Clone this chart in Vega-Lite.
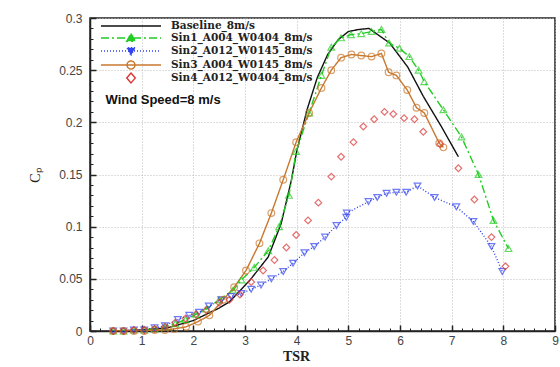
{
  "$schema": "https://vega.github.io/schema/vega-lite/v6.json",
  "width": 465,
  "height": 313,
  "autosize": "none",
  "padding": {"left": 90, "top": 18, "right": 5, "bottom": 36},
  "background": "white",
  "config": {
    "view": {"stroke": "#222", "strokeWidth": 1.5},
    "axis": {"labelFont": "Liberation Sans", "labelFontSize": 12, "labelColor": "#444", "domainColor": "#222", "domainWidth": 1.5, "tickColor": "#222"},
    "legend": {
      "orient": "none", "legendX": 35, "legendY": 2, "padding": 0,
      "labelFont": "DejaVu Serif", "labelFontSize": 10.5, "labelFontWeight": "bold", "labelColor": "#222",
      "symbolSize": 100, "symbolStrokeWidth": 1.4, "symbolOpacity": 1, "labelOffset": 34, "rowPadding": -2
    }
  },
  "datasets": {
    "cp": [
      {"series": "Baseline_8m/s", "tsr": 0.45, "cp": 0},
      {"series": "Baseline_8m/s", "tsr": 1.0, "cp": 0.001},
      {"series": "Baseline_8m/s", "tsr": 1.5, "cp": 0.003},
      {"series": "Baseline_8m/s", "tsr": 2.0, "cp": 0.01},
      {"series": "Baseline_8m/s", "tsr": 2.5, "cp": 0.022},
      {"series": "Baseline_8m/s", "tsr": 2.7, "cp": 0.028},
      {"series": "Baseline_8m/s", "tsr": 3.1, "cp": 0.049},
      {"series": "Baseline_8m/s", "tsr": 3.45, "cp": 0.071},
      {"series": "Baseline_8m/s", "tsr": 3.7, "cp": 0.103},
      {"series": "Baseline_8m/s", "tsr": 3.9, "cp": 0.145},
      {"series": "Baseline_8m/s", "tsr": 4.0, "cp": 0.172},
      {"series": "Baseline_8m/s", "tsr": 4.2, "cp": 0.212},
      {"series": "Baseline_8m/s", "tsr": 4.4, "cp": 0.243},
      {"series": "Baseline_8m/s", "tsr": 4.6, "cp": 0.265},
      {"series": "Baseline_8m/s", "tsr": 4.8, "cp": 0.279},
      {"series": "Baseline_8m/s", "tsr": 5.0, "cp": 0.287},
      {"series": "Baseline_8m/s", "tsr": 5.2, "cp": 0.289},
      {"series": "Baseline_8m/s", "tsr": 5.4, "cp": 0.29},
      {"series": "Baseline_8m/s", "tsr": 5.6, "cp": 0.283},
      {"series": "Baseline_8m/s", "tsr": 5.8, "cp": 0.276},
      {"series": "Baseline_8m/s", "tsr": 6.15, "cp": 0.253},
      {"series": "Baseline_8m/s", "tsr": 6.45, "cp": 0.225},
      {"series": "Baseline_8m/s", "tsr": 6.8, "cp": 0.196},
      {"series": "Baseline_8m/s", "tsr": 7.13, "cp": 0.167},

      {"series": "Sin1_A004_W0404_8m/s", "tsr": 0.45, "cp": 0},
      {"series": "Sin1_A004_W0404_8m/s", "tsr": 0.65, "cp": 0},
      {"series": "Sin1_A004_W0404_8m/s", "tsr": 0.85, "cp": 0.001},
      {"series": "Sin1_A004_W0404_8m/s", "tsr": 1.05, "cp": 0.001},
      {"series": "Sin1_A004_W0404_8m/s", "tsr": 1.25, "cp": 0.002},
      {"series": "Sin1_A004_W0404_8m/s", "tsr": 1.45, "cp": 0.004},
      {"series": "Sin1_A004_W0404_8m/s", "tsr": 1.65, "cp": 0.007},
      {"series": "Sin1_A004_W0404_8m/s", "tsr": 1.85, "cp": 0.011},
      {"series": "Sin1_A004_W0404_8m/s", "tsr": 2.05, "cp": 0.016},
      {"series": "Sin1_A004_W0404_8m/s", "tsr": 2.25, "cp": 0.021},
      {"series": "Sin1_A004_W0404_8m/s", "tsr": 2.5, "cp": 0.03},
      {"series": "Sin1_A004_W0404_8m/s", "tsr": 2.77, "cp": 0.039},
      {"series": "Sin1_A004_W0404_8m/s", "tsr": 2.93, "cp": 0.049},
      {"series": "Sin1_A004_W0404_8m/s", "tsr": 3.18, "cp": 0.061},
      {"series": "Sin1_A004_W0404_8m/s", "tsr": 3.45, "cp": 0.077},
      {"series": "Sin1_A004_W0404_8m/s", "tsr": 3.66, "cp": 0.1},
      {"series": "Sin1_A004_W0404_8m/s", "tsr": 3.85, "cp": 0.13},
      {"series": "Sin1_A004_W0404_8m/s", "tsr": 3.99, "cp": 0.172},
      {"series": "Sin1_A004_W0404_8m/s", "tsr": 4.24, "cp": 0.209},
      {"series": "Sin1_A004_W0404_8m/s", "tsr": 4.48, "cp": 0.245},
      {"series": "Sin1_A004_W0404_8m/s", "tsr": 4.67, "cp": 0.272},
      {"series": "Sin1_A004_W0404_8m/s", "tsr": 4.86, "cp": 0.281},
      {"series": "Sin1_A004_W0404_8m/s", "tsr": 5.05, "cp": 0.284},
      {"series": "Sin1_A004_W0404_8m/s", "tsr": 5.25, "cp": 0.285},
      {"series": "Sin1_A004_W0404_8m/s", "tsr": 5.45, "cp": 0.287},
      {"series": "Sin1_A004_W0404_8m/s", "tsr": 5.64, "cp": 0.289},
      {"series": "Sin1_A004_W0404_8m/s", "tsr": 5.79, "cp": 0.276},
      {"series": "Sin1_A004_W0404_8m/s", "tsr": 5.99, "cp": 0.271},
      {"series": "Sin1_A004_W0404_8m/s", "tsr": 6.18, "cp": 0.263},
      {"series": "Sin1_A004_W0404_8m/s", "tsr": 6.36, "cp": 0.25},
      {"series": "Sin1_A004_W0404_8m/s", "tsr": 6.47, "cp": 0.239},
      {"series": "Sin1_A004_W0404_8m/s", "tsr": 6.84, "cp": 0.212},
      {"series": "Sin1_A004_W0404_8m/s", "tsr": 7.19, "cp": 0.186},
      {"series": "Sin1_A004_W0404_8m/s", "tsr": 7.52, "cp": 0.15},
      {"series": "Sin1_A004_W0404_8m/s", "tsr": 7.81, "cp": 0.106},
      {"series": "Sin1_A004_W0404_8m/s", "tsr": 8.1, "cp": 0.079},

      {"series": "Sin2_A012_W0145_8m/s", "tsr": 0.45, "cp": 0},
      {"series": "Sin2_A012_W0145_8m/s", "tsr": 0.65, "cp": 0},
      {"series": "Sin2_A012_W0145_8m/s", "tsr": 0.85, "cp": 0.001},
      {"series": "Sin2_A012_W0145_8m/s", "tsr": 1.05, "cp": 0.001},
      {"series": "Sin2_A012_W0145_8m/s", "tsr": 1.25, "cp": 0.003},
      {"series": "Sin2_A012_W0145_8m/s", "tsr": 1.45, "cp": 0.005},
      {"series": "Sin2_A012_W0145_8m/s", "tsr": 1.7, "cp": 0.011},
      {"series": "Sin2_A012_W0145_8m/s", "tsr": 1.92, "cp": 0.015},
      {"series": "Sin2_A012_W0145_8m/s", "tsr": 2.11, "cp": 0.018},
      {"series": "Sin2_A012_W0145_8m/s", "tsr": 2.3, "cp": 0.024},
      {"series": "Sin2_A012_W0145_8m/s", "tsr": 2.54, "cp": 0.03},
      {"series": "Sin2_A012_W0145_8m/s", "tsr": 2.73, "cp": 0.033},
      {"series": "Sin2_A012_W0145_8m/s", "tsr": 2.93, "cp": 0.036},
      {"series": "Sin2_A012_W0145_8m/s", "tsr": 3.12, "cp": 0.04},
      {"series": "Sin2_A012_W0145_8m/s", "tsr": 3.31, "cp": 0.044},
      {"series": "Sin2_A012_W0145_8m/s", "tsr": 3.51, "cp": 0.05},
      {"series": "Sin2_A012_W0145_8m/s", "tsr": 3.74, "cp": 0.057},
      {"series": "Sin2_A012_W0145_8m/s", "tsr": 3.93, "cp": 0.065},
      {"series": "Sin2_A012_W0145_8m/s", "tsr": 4.15, "cp": 0.075},
      {"series": "Sin2_A012_W0145_8m/s", "tsr": 4.34, "cp": 0.081},
      {"series": "Sin2_A012_W0145_8m/s", "tsr": 4.55, "cp": 0.09},
      {"series": "Sin2_A012_W0145_8m/s", "tsr": 4.77, "cp": 0.101},
      {"series": "Sin2_A012_W0145_8m/s", "tsr": 4.96, "cp": 0.109},
      {"series": "Sin2_A012_W0145_8m/s", "tsr": 4.97, "cp": 0.113},
      {"series": "Sin2_A012_W0145_8m/s", "tsr": 5.39, "cp": 0.124},
      {"series": "Sin2_A012_W0145_8m/s", "tsr": 5.56, "cp": 0.128},
      {"series": "Sin2_A012_W0145_8m/s", "tsr": 5.74, "cp": 0.132},
      {"series": "Sin2_A012_W0145_8m/s", "tsr": 5.93, "cp": 0.133},
      {"series": "Sin2_A012_W0145_8m/s", "tsr": 6.12, "cp": 0.133},
      {"series": "Sin2_A012_W0145_8m/s", "tsr": 6.34, "cp": 0.139},
      {"series": "Sin2_A012_W0145_8m/s", "tsr": 6.67, "cp": 0.128},
      {"series": "Sin2_A012_W0145_8m/s", "tsr": 7.09, "cp": 0.119},
      {"series": "Sin2_A012_W0145_8m/s", "tsr": 7.42, "cp": 0.105},
      {"series": "Sin2_A012_W0145_8m/s", "tsr": 7.77, "cp": 0.081},
      {"series": "Sin2_A012_W0145_8m/s", "tsr": 7.98, "cp": 0.057},

      {"series": "Sin3_A004_W0145_8m/s", "tsr": 0.45, "cp": 0},
      {"series": "Sin3_A004_W0145_8m/s", "tsr": 0.65, "cp": 0},
      {"series": "Sin3_A004_W0145_8m/s", "tsr": 0.85, "cp": 0},
      {"series": "Sin3_A004_W0145_8m/s", "tsr": 1.05, "cp": 0},
      {"series": "Sin3_A004_W0145_8m/s", "tsr": 1.25, "cp": 0.001},
      {"series": "Sin3_A004_W0145_8m/s", "tsr": 1.45, "cp": 0.001},
      {"series": "Sin3_A004_W0145_8m/s", "tsr": 1.63, "cp": 0.002},
      {"series": "Sin3_A004_W0145_8m/s", "tsr": 1.86, "cp": 0.004},
      {"series": "Sin3_A004_W0145_8m/s", "tsr": 2.09, "cp": 0.009},
      {"series": "Sin3_A004_W0145_8m/s", "tsr": 2.31, "cp": 0.015},
      {"series": "Sin3_A004_W0145_8m/s", "tsr": 2.58, "cp": 0.03},
      {"series": "Sin3_A004_W0145_8m/s", "tsr": 2.79, "cp": 0.042},
      {"series": "Sin3_A004_W0145_8m/s", "tsr": 3.02, "cp": 0.058},
      {"series": "Sin3_A004_W0145_8m/s", "tsr": 3.28, "cp": 0.084},
      {"series": "Sin3_A004_W0145_8m/s", "tsr": 3.51, "cp": 0.113},
      {"series": "Sin3_A004_W0145_8m/s", "tsr": 3.74, "cp": 0.145},
      {"series": "Sin3_A004_W0145_8m/s", "tsr": 3.99, "cp": 0.181},
      {"series": "Sin3_A004_W0145_8m/s", "tsr": 4.24, "cp": 0.209},
      {"series": "Sin3_A004_W0145_8m/s", "tsr": 4.48, "cp": 0.233},
      {"series": "Sin3_A004_W0145_8m/s", "tsr": 4.67, "cp": 0.25},
      {"series": "Sin3_A004_W0145_8m/s", "tsr": 4.86, "cp": 0.262},
      {"series": "Sin3_A004_W0145_8m/s", "tsr": 5.06, "cp": 0.265},
      {"series": "Sin3_A004_W0145_8m/s", "tsr": 5.25, "cp": 0.264},
      {"series": "Sin3_A004_W0145_8m/s", "tsr": 5.45, "cp": 0.263},
      {"series": "Sin3_A004_W0145_8m/s", "tsr": 5.64, "cp": 0.266},
      {"series": "Sin3_A004_W0145_8m/s", "tsr": 5.78, "cp": 0.248},
      {"series": "Sin3_A004_W0145_8m/s", "tsr": 5.93, "cp": 0.245},
      {"series": "Sin3_A004_W0145_8m/s", "tsr": 6.14, "cp": 0.231},
      {"series": "Sin3_A004_W0145_8m/s", "tsr": 6.32, "cp": 0.214},
      {"series": "Sin3_A004_W0145_8m/s", "tsr": 6.47, "cp": 0.209},
      {"series": "Sin3_A004_W0145_8m/s", "tsr": 6.76, "cp": 0.18},
      {"series": "Sin3_A004_W0145_8m/s", "tsr": 6.84, "cp": 0.176},

      {"series": "Sin4_A012_W0404_8m/s", "tsr": 0.45, "cp": 0},
      {"series": "Sin4_A012_W0404_8m/s", "tsr": 0.65, "cp": 0},
      {"series": "Sin4_A012_W0404_8m/s", "tsr": 0.85, "cp": 0.001},
      {"series": "Sin4_A012_W0404_8m/s", "tsr": 1.05, "cp": 0.001},
      {"series": "Sin4_A012_W0404_8m/s", "tsr": 1.25, "cp": 0.002},
      {"series": "Sin4_A012_W0404_8m/s", "tsr": 1.45, "cp": 0.004},
      {"series": "Sin4_A012_W0404_8m/s", "tsr": 1.65, "cp": 0.008},
      {"series": "Sin4_A012_W0404_8m/s", "tsr": 1.85, "cp": 0.012},
      {"series": "Sin4_A012_W0404_8m/s", "tsr": 2.05, "cp": 0.016},
      {"series": "Sin4_A012_W0404_8m/s", "tsr": 2.25, "cp": 0.02},
      {"series": "Sin4_A012_W0404_8m/s", "tsr": 2.5, "cp": 0.027},
      {"series": "Sin4_A012_W0404_8m/s", "tsr": 2.7, "cp": 0.03},
      {"series": "Sin4_A012_W0404_8m/s", "tsr": 2.9, "cp": 0.035},
      {"series": "Sin4_A012_W0404_8m/s", "tsr": 3.12, "cp": 0.047},
      {"series": "Sin4_A012_W0404_8m/s", "tsr": 3.35, "cp": 0.058},
      {"series": "Sin4_A012_W0404_8m/s", "tsr": 3.57, "cp": 0.068},
      {"series": "Sin4_A012_W0404_8m/s", "tsr": 3.8, "cp": 0.08},
      {"series": "Sin4_A012_W0404_8m/s", "tsr": 3.99, "cp": 0.092},
      {"series": "Sin4_A012_W0404_8m/s", "tsr": 4.22, "cp": 0.106},
      {"series": "Sin4_A012_W0404_8m/s", "tsr": 4.42, "cp": 0.123},
      {"series": "Sin4_A012_W0404_8m/s", "tsr": 4.67, "cp": 0.148},
      {"series": "Sin4_A012_W0404_8m/s", "tsr": 4.86, "cp": 0.167},
      {"series": "Sin4_A012_W0404_8m/s", "tsr": 5.1, "cp": 0.181},
      {"series": "Sin4_A012_W0404_8m/s", "tsr": 5.29, "cp": 0.196},
      {"series": "Sin4_A012_W0404_8m/s", "tsr": 5.5, "cp": 0.203},
      {"series": "Sin4_A012_W0404_8m/s", "tsr": 5.7, "cp": 0.21},
      {"series": "Sin4_A012_W0404_8m/s", "tsr": 5.87, "cp": 0.208},
      {"series": "Sin4_A012_W0404_8m/s", "tsr": 6.08, "cp": 0.204},
      {"series": "Sin4_A012_W0404_8m/s", "tsr": 6.28, "cp": 0.203},
      {"series": "Sin4_A012_W0404_8m/s", "tsr": 6.45, "cp": 0.191},
      {"series": "Sin4_A012_W0404_8m/s", "tsr": 6.78, "cp": 0.179},
      {"series": "Sin4_A012_W0404_8m/s", "tsr": 7.13, "cp": 0.156},
      {"series": "Sin4_A012_W0404_8m/s", "tsr": 7.44, "cp": 0.126},
      {"series": "Sin4_A012_W0404_8m/s", "tsr": 7.77, "cp": 0.09},
      {"series": "Sin4_A012_W0404_8m/s", "tsr": 8.04, "cp": 0.062}
    ],
    "note": [{"label": "Wind Speed=8 m/s", "tsr": 0.3, "cp": 0.221}]
  },
  "data": {"name": "cp"},
  "encoding": {
    "x": {
      "field": "tsr", "type": "quantitative",
      "scale": {"domain": [0, 9], "nice": false, "zero": false},
      "axis": {
        "title": "TSR", "titleFont": "Liberation Serif", "titleFontSize": 14, "titleFontWeight": "bold", "titleColor": "#222", "titleX": 206, "titlePadding": 0,
        "values": [0,0.2,0.4,0.6,0.8,1,1.2,1.4,1.6,1.8,2,2.2,2.4,2.6,2.8,3,3.2,3.4,3.6,3.8,4,4.2,4.4,4.6,4.8,5,5.2,5.4,5.6,5.8,6,6.2,6.4,6.6,6.8,7,7.2,7.4,7.6,7.8,8,8.2,8.4,8.6,8.8,9],
        "labelExpr": "abs(datum.value - round(datum.value)) < 0.001 ? format(datum.value, 'd') : ''",
        "tickSize": {"condition": {"test": "abs(datum.value - round(datum.value)) < 0.001", "value": -6}, "value": -3},
        "tickWidth": {"condition": {"test": "abs(datum.value - round(datum.value)) < 0.001", "value": 1.5}, "value": 1},
        "gridOpacity": {"condition": {"test": "abs(datum.value - round(datum.value)) < 0.001", "value": 1}, "value": 0},
        "gridColor": "#bbb", "gridDash": [1, 2], "gridWidth": 1,
        "labelPadding": 10, "labelFlush": false, "labelOverlap": false
      }
    },
    "y": {
      "field": "cp", "type": "quantitative",
      "scale": {"domain": [0, 0.3], "nice": false},
      "axis": {
        "title": "Cₚ", "titleFont": "Liberation Serif", "titleFontSize": 14, "titleFontWeight": "normal", "titleColor": "#222", "titlePadding": 16,
        "values": [0,0.01,0.02,0.03,0.04,0.05,0.06,0.07,0.08,0.09,0.1,0.11,0.12,0.13,0.14,0.15,0.16,0.17,0.18,0.19,0.2,0.21,0.22,0.23,0.24,0.25,0.26,0.27,0.28,0.29,0.3],
        "labelExpr": "abs(datum.value*20 - round(datum.value*20)) < 0.001 ? format(datum.value, '') : ''",
        "tickSize": {"condition": {"test": "abs(datum.value*20 - round(datum.value*20)) < 0.001", "value": -6}, "value": -3},
        "tickWidth": {"condition": {"test": "abs(datum.value*20 - round(datum.value*20)) < 0.001", "value": 1.5}, "value": 1},
        "gridOpacity": {"condition": {"test": "abs(datum.value*20 - round(datum.value*20)) < 0.001", "value": 1}, "value": 0},
        "gridColor": "#bbb", "gridDash": [1, 2], "gridWidth": 1,
        "labelPadding": 14, "labelFlush": false, "labelOverlap": false
      }
    }
  },
  "resolve": {"scale": {"shape": "independent", "strokeDash": "independent", "fill": "independent", "stroke": "independent"}},
  "layer": [
    {
      "transform": [{"filter": "datum.series !== 'Sin4_A012_W0404_8m/s'"}],
      "mark": {"type": "line", "strokeWidth": 1.4, "clip": true},
      "encoding": {
        "color": {
          "field": "series", "type": "nominal",
          "scale": {
            "domain": ["Baseline_8m/s", "Sin1_A004_W0404_8m/s", "Sin2_A012_W0145_8m/s", "Sin3_A004_W0145_8m/s", "Sin4_A012_W0404_8m/s"],
            "range": ["#111111", "#22cc22", "#3344ee", "#c8782e", "#dd3333"]
          },
          "legend": null
        },
        "strokeDash": {
          "field": "series", "type": "nominal",
          "scale": {
            "domain": ["Baseline_8m/s", "Sin1_A004_W0404_8m/s", "Sin2_A012_W0145_8m/s", "Sin3_A004_W0145_8m/s", "Sin4_A012_W0404_8m/s"],
            "range": [[1, 0], [8, 3, 2, 3], [1, 2], [1, 0], [1, 0]]
          },
          "legend": null
        }
      }
    },
    {
      "transform": [{"filter": "datum.series !== 'Baseline_8m/s'"}],
      "mark": {"type": "point", "filled": false, "size": 45, "strokeWidth": 1.2},
      "encoding": {
        "color": {"field": "series", "type": "nominal", "legend": null},
        "shape": {
          "field": "series", "type": "nominal",
          "scale": {
            "domain": ["Baseline_8m/s", "Sin1_A004_W0404_8m/s", "Sin2_A012_W0145_8m/s", "Sin3_A004_W0145_8m/s", "Sin4_A012_W0404_8m/s"],
            "range": ["stroke", "triangle-up", "triangle-down", "circle", "diamond"]
          },
          "legend": null
        }
      }
    },
    {
      "mark": {"type": "point", "opacity": 0, "strokeWidth": 1.4},
      "encoding": {
        "shape": {
          "field": "series", "type": "nominal",
          "scale": {
            "domain": ["Baseline_8m/s", "Sin1_A004_W0404_8m/s", "Sin2_A012_W0145_8m/s", "Sin3_A004_W0145_8m/s", "Sin4_A012_W0404_8m/s"],
            "range": [
              "M-6,0H6",
              "M-6,0H6M0,-0.9L0.85,0.65L-0.85,0.65Z",
              "M-6,0H6M0,0.9L0.85,-0.65L-0.85,-0.65Z",
              "M-6,0H6M0.8,0A0.8,0.8,0,1,1,-0.8,0A0.8,0.8,0,1,1,0.8,0Z",
              "M0,-1L0.85,0L0,1L-0.85,0Z"
            ]
          },
          "legend": {"title": null}
        },
        "stroke": {
          "field": "series", "type": "nominal",
          "scale": {
            "domain": ["Baseline_8m/s", "Sin1_A004_W0404_8m/s", "Sin2_A012_W0145_8m/s", "Sin3_A004_W0145_8m/s", "Sin4_A012_W0404_8m/s"],
            "range": ["#111111", "#22cc22", "#3344ee", "#c8782e", "#dd3333"]
          },
          "legend": {"title": null}
        },
        "fill": {
          "field": "series", "type": "nominal",
          "scale": {
            "domain": ["Baseline_8m/s", "Sin1_A004_W0404_8m/s", "Sin2_A012_W0145_8m/s", "Sin3_A004_W0145_8m/s", "Sin4_A012_W0404_8m/s"],
            "range": ["transparent", "#22cc22", "#3344ee", "transparent", "transparent"]
          },
          "legend": {"title": null}
        },
        "strokeDash": {
          "field": "series", "type": "nominal",
          "scale": {
            "domain": ["Baseline_8m/s", "Sin1_A004_W0404_8m/s", "Sin2_A012_W0145_8m/s", "Sin3_A004_W0145_8m/s", "Sin4_A012_W0404_8m/s"],
            "range": [[1, 0], [8, 3, 2, 3], [1, 2], [1, 0], [1, 0]]
          },
          "legend": {"title": null}
        }
      }
    },
    {
      "data": {"name": "note"},
      "mark": {"type": "text", "align": "left", "baseline": "middle", "font": "Liberation Sans", "fontSize": 13, "fontWeight": "bold", "color": "#111"},
      "encoding": {"text": {"field": "label"}}
    }
  ]
}
